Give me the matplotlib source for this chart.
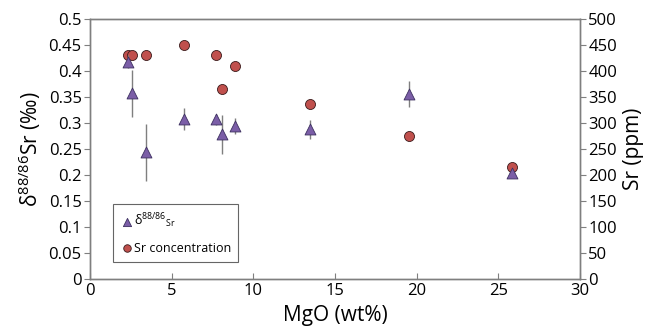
import matplotlib
matplotlib.use("Agg")
import matplotlib.pyplot as plt

FONT = "Open Sans"
plt.rcParams['font.family'] = [FONT, 'DejaVu Sans']
plt.rcParams['mathtext.fontset'] = 'custom'
plt.rcParams['mathtext.rm'] = FONT
plt.rcParams['mathtext.it'] = FONT + ':italic'

mgo_sr = [2.35, 2.6, 3.45, 5.78, 7.74, 8.06, 8.88, 13.47, 19.55, 25.86]
sr_ppm = [430, 430, 430, 450, 430, 366, 410, 336, 275, 216]

mgo_d = [2.35, 2.6, 3.45, 5.78, 7.74, 8.06, 8.88, 13.47, 19.55, 25.86]
delta = [0.418, 0.357, 0.244, 0.308, 0.307, 0.278, 0.294, 0.288, 0.355, 0.203]
delta_err = [0.012, 0.045, 0.055, 0.021, 0.010, 0.038, 0.016, 0.018, 0.025, 0.006]

xticks = [0, 5, 10, 15, 20, 25, 30]
yticks_l = [0, 0.05, 0.1, 0.15, 0.2, 0.25, 0.3, 0.35, 0.4, 0.45, 0.5]
yticks_r = [0, 50, 100, 150, 200, 250, 300, 350, 400, 450, 500]

fig = plt.figure(figsize=(6.54, 3.34), dpi=100)
ax = fig.add_axes([90/654, 55/334, 490/654, 260/334])
ax2 = ax.twinx()

spine_c = '#7f7f7f'
for a in (ax, ax2):
    for s in a.spines.values():
        s.set_color(spine_c)
        s.set_linewidth(1.0)

ax.errorbar(mgo_d, delta, yerr=delta_err, fmt='none', ecolor='#7f7f7f', elinewidth=1.0, capsize=0, zorder=2)
h1 = ax.scatter(mgo_d, delta, marker='^', s=62, facecolor='#7B5EA7', edgecolor='#3d3060', linewidth=0.6, zorder=3,
                label=r'δ$^{88/86}$$_{\mathrm{Sr}}$')
h2 = ax2.scatter(mgo_sr, sr_ppm, marker='o', s=52, facecolor='#C0504D', edgecolor='#3a1a1a', linewidth=0.6, zorder=3,
                 label='Sr concentration')

ax.set_xlim(0, 30)
ax.set_ylim(0, 0.5)
ax2.set_ylim(0, 500)
ax.set_xticks(xticks)
ax.set_xticklabels([str(v) for v in xticks])
ax.set_yticks(yticks_l)
ax.set_yticklabels(['0'] + [('%g' % v) for v in yticks_l[1:]])
ax2.set_yticks(yticks_r)
ax2.set_yticklabels([str(v) for v in yticks_r])

ax.tick_params(axis='x', direction='in', length=4, color=spine_c, labelsize=12, pad=3)
ax.tick_params(axis='y', direction='out', length=4, color=spine_c, labelsize=12, pad=2)
ax2.tick_params(axis='y', direction='out', length=4, color=spine_c, labelsize=12, pad=2)

ax.set_xlabel('MgO (wt%)', fontsize=15, labelpad=4)
ax.set_ylabel(r'δ$^{88/86}$Sr (‰)', fontsize=15, labelpad=4)
ax2.set_ylabel('Sr (ppm)', fontsize=15, labelpad=4)

ax.set_zorder(ax2.get_zorder() + 1)
ax.patch.set_visible(False)

leg = ax.legend(handles=[h1, h2], loc='lower left', bbox_to_anchor=(0.047, 0.065), borderaxespad=0,
                fontsize=9, frameon=True, fancybox=False, edgecolor='#404040', handletextpad=0.05,
                markerscale=0.75, borderpad=0.6, labelspacing=0.9, handlelength=1.0)
leg.get_frame().set_linewidth(0.8)

fig.savefig('out.png', dpi=100)
